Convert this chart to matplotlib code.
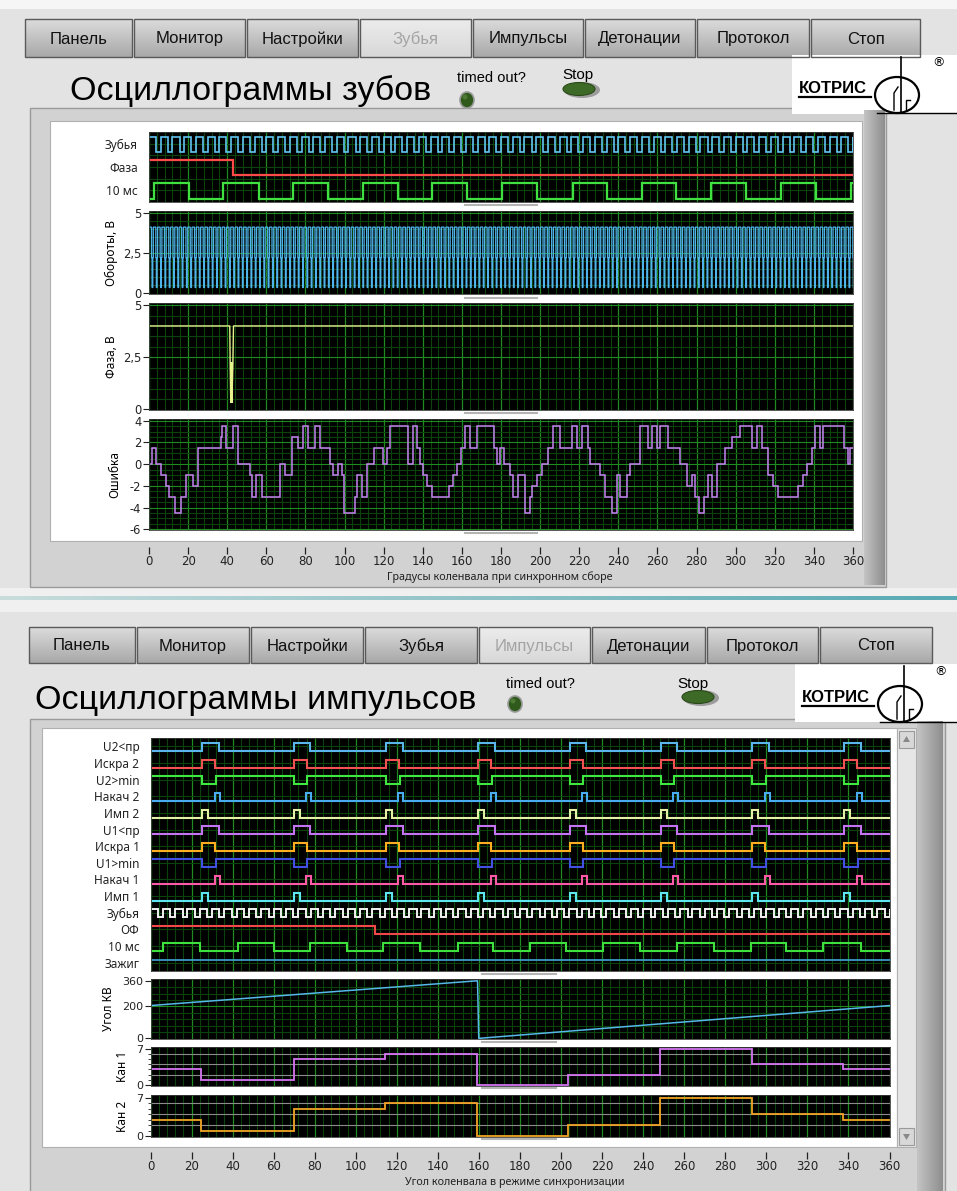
import numpy as np
import matplotlib
matplotlib.use("Agg")
import matplotlib.pyplot as plt
from matplotlib.patches import Rectangle, Ellipse, Polygon

plt.rcParams["axes.unicode_minus"] = False

# ---------------------------------------------------------------- data ----
X_TICKS = list(range(0, 361, 20))

BUTTONS = ["Панель", "Монитор", "Настройки", "Зубья", "Импульсы", "Детонации", "Протокол", "Стоп"]

# top screen: teeth oscillograms
TOP_DIG_LABELS = ["Зубья", "Фаза", "10 мс"]
TEETH_PERIOD = 6.0          # crank degrees per tooth
TEETH_DUTY = 0.6
TOP_PHASE_DROP = 43.0
TOP_10MS_EDGES = [2.5, 20.5, 37.8, 56.2, 73.8, 91.3, 109.2, 127.1, 144.7, 162.6, 180.6,
                  198.5, 216.6, 234.0, 252.3, 269.7, 287.5, 305.4, 323.0, 341.3, 359.2]

OBOROTY_LEVELS = [4.1, 2.2, 0.35, 2.2]
OBOROTY_DURATIONS = [1.3, 0.25, 0.4, 0.25]

FAZA_X = [0, 41.3, 41.5, 41.8, 42.4, 42.9, 43.2, 360]
FAZA_Y = [4.0, 4.0, 2.2, 0.4, 0.4, 2.2, 4.0, 4.0]

ERR_EDGES = [0, 1.4, 3.4, 6.1, 8.5, 10.2, 13.3, 16.2, 18.7, 22.7, 25.2, 36.8, 37.5, 39.2,
             43.1, 45.7, 51.6, 52.8, 54.7, 57.6, 67.0, 69.5, 73.0, 76.4, 78.6, 81.5, 84.9,
             87.4, 92.6, 94.3, 96.8, 98.5, 99.9, 105.3, 106.4, 108.7, 111.3, 115.0, 119.8,
             121.5, 123.2, 132.6, 135.2, 136.9, 138.6, 140.3, 142.0, 144.5, 153.4, 155.6,
             157.3, 159.5, 161.6, 164.1, 167.6, 176.6, 177.9, 179.5, 181.5, 184.6, 186.3,
             188.8, 192.2, 194.8, 195.6, 198.2, 200.8, 204.2, 206.7, 210.1, 216.1, 218.7,
             221.2, 224.3, 225.5, 230.6, 233.2, 236.6, 239.1, 240.8, 244.2, 245.9, 251.0,
             255.3, 257.0, 259.6, 261.3, 265.5, 271.5, 274.9, 277.5, 279.2, 281.2, 283.9,
             286.0, 287.7, 290.2, 294.5, 297.9, 302.2, 308.1, 310.7, 313.3, 316.7, 319.2,
             321.8, 332.0, 334.6, 336.3, 338.8, 340.5, 343.1, 344.8, 355.5, 357.2, 358.4, 360]
ERR_LEVELS = [0, 1.5, 0, -1, -2, -3, -4.5, -3, -1, -2, 1.5, 2.5, 3.5, 1.5,
              3.5, 0, -1, -3, -1, -3, 0, -1, 2.5, 1.5, 3.5, 1.5, 3.5,
              1.5, 0, -1, 0, -1, -4.5, -3, -1, -3, 0, 1.5, 0,
              1.5, 3.5, 0, 3.5, 1.5, 0, -1, -2, -3, -2, -1,
              0, 1.5, 3.5, 1.5, 3.5, 1.5, 0, 1.5, 0, -1, -3,
              -1, -4.5, -3, -2, -1, 0, 1.5, 3.5, 1.5, 3.5, 1.5,
              3.5, 1.5, 0, -1, -3, -4.5, -1, -3, -1, 0, 3.5,
              1.5, 3.5, 1.5, 3.5, 1.5, 0, -2, -1, -3, -4.5, -3,
              -1, -3, 0, 1.5, 2.5, 3.5, 1.5, 3.5, 1.5, -1, -2,
              -3, -2, -1, 0, 1.5, 3.5, 1.5, 3.5, 1.5, 0, 1.5]

# bottom screen: pulse oscillograms
BOT_DIG_LABELS = ["U2<пр", "Искра 2", "U2>min", "Накач 2", "Имп 2", "U1<пр", "Искра 1",
                  "U1>min", "Накач 1", "Имп 1", "Зубья", "ОФ", "10 мс", "Зажиг"]
PULSE_STARTS = [25.3, 69.8, 114.8, 159.7, 204.2, 248.7, 293.2, 338.0]
PULSE_OFFSET = [0, 0, 0, 6.0, 0, 0, 0, 0, 6.0, 0]
PULSE_WIDTH = [8.0, 6.3, 6.5, 2.4, 2.9, 8.0, 6.3, 6.5, 2.4, 2.9]
PULSE_INVERTED = [False, False, True, False, False, False, False, True, False, False]
BOT_OF_DROP = 109.6
BOT_10MS_EDGES = [6.2, 24.0, 42.5, 60.4, 77.6, 95.5, 113.3, 131.5, 149.7, 166.9, 184.8,
                  202.6, 220.5, 238.7, 256.6, 274.4, 292.3, 309.8, 327.7, 346.2]

UGOL_X = [0, 159.3, 159.6, 159.9, 360]
UGOL_Y = [205, 360, 180, 0, 205]

KAN_EDGES = [0, 24.4, 69.8, 114.3, 159.2, 203.3, 248.4, 293.0, 337.4, 360]
KAN1_LEVELS = [3, 1, 5, 6, 0, 2, 7, 4, 3]
KAN2_LEVELS = [3, 1, 5, 6, 0, 2, 7, 4, 3]

# ------------------------------------------------------------- styling ----
W, H = 957, 1191
PANEL = "#e3e3e3"
FRAME = "#d2d2d2"
MAJ_GRID = "#1f8a1f"
MIN_GRID = "#0c430c"
HEAD = "Liberation Sans"   # stands in for the narrow LabVIEW dialog font
UI = "Noto Sans"

fig = plt.figure(figsize=(W / 100, H / 100), dpi=100)
fig.patch.set_facecolor(PANEL)

bg = fig.add_axes([0, 0, 1, 1])
bg.set_zorder(-10)
bg.axis("off")


def frac(x0, y0, x1, y1):
    return [x0 / W, 1 - y1 / H, (x1 - x0) / W, (y1 - y0) / H]


def rect(x0, y0, x1, y1, **kw):
    bg.add_patch(Rectangle((x0, y0), x1 - x0, y1 - y0, **kw))


def vgrad(x0, y0, x1, y1, c_top, c_bot, horizontal=False):
    t = np.linspace(0, 1, 64)
    c0, c1 = np.array(matplotlib.colors.to_rgb(c_top)), np.array(matplotlib.colors.to_rgb(c_bot))
    img = c0 + (c1 - c0) * t[:, None]
    img = img[None, :, :] if horizontal else img[:, None, :]
    bg.imshow(img, extent=(x0, x1, y1, y0), aspect="auto", interpolation="bilinear", zorder=2)


def button_row(edges, y0, y1, disabled_idx):
    for i, label in enumerate(BUTTONS):
        x0, x1 = edges[i] + 1, edges[i + 1] - 1
        dis = i == disabled_idx
        if dis:
            vgrad(x0, y0, x1, y1, "#ececec", "#d8d8d8")
        else:
            vgrad(x0, y0, x1, y1, "#dcdcdc", "#a8a8a8")
        rect(x0, y0, x1, y1, fill=False, ec="#5a5a5a", lw=1.0, zorder=3)
        bg.text((x0 + x1) / 2, (y0 + y1) / 2 + 1, label, ha="center", va="center",
                family=HEAD, fontsize=12, color="#a4a4a4" if dis else "#111111", zorder=4)


def led(x, y):
    bg.add_patch(Ellipse((x, y), 14, 16, fc="#2f5a1c", ec="#9a9a9a", lw=1.2, zorder=4))
    bg.add_patch(Ellipse((x - 2, y - 3), 5, 5, fc="#4d7a34", ec="none", zorder=5))


def stop_led(x, y):
    bg.add_patch(Ellipse((x + 3, y + 1), 36, 16, fc="#9c9c9c", ec="none", zorder=4))
    bg.add_patch(Ellipse((x, y), 32, 13, fc="#3d6a26", ec="#2b4a1a", lw=0.8, zorder=5))


def logo(x0, y0, y1):
    rect(x0, y0, W, y1, fc="white", ec="none", zorder=2)
    bg.text(x0 + 7, y0 + 38, "КОТРИС", family="Liberation Sans", fontweight="bold",
            fontsize=12, ha="left", va="baseline", zorder=4)
    bg.plot([x0 + 7, x0 + 79], [y0 + 42, y0 + 42], color="black", lw=1.6, zorder=4)
    cx = x0 + 105
    bg.add_patch(Ellipse((cx, y0 + 40), 44, 36, fill=False, ec="black", lw=1.6, zorder=4))
    bg.plot([cx + 4, cx + 4], [y0 + 2, y0 + 58], color="black", lw=1.2, zorder=4)
    bg.plot([cx - 3, cx - 3, cx + 1], [y0 + 55, y0 + 38, y0 + 32], color="black", lw=1.0, zorder=4)
    bg.plot([cx + 9, cx + 9, cx + 13], [y0 + 55, y0 + 45, y0 + 45], color="black", lw=1.0, zorder=4)
    bg.plot([cx - 20, W], [y0 + 58, y0 + 58], color="black", lw=1.0, zorder=4)
    bg.text(cx + 41, y0 + 8, "®", fontsize=9, ha="center", va="center", zorder=4)


def grid_axes(ax, xmin_step=4, xmaj_step=20):
    ax.set_facecolor("black")
    ax.set_xlim(0, 360)
    for x in np.arange(0, 361, xmin_step):
        major = abs(x / xmaj_step - round(x / xmaj_step)) < 1e-6
        ax.axvline(x, color=MAJ_GRID if major else MIN_GRID, lw=0.9 if major else 0.8, zorder=0)
    for s in ax.spines.values():
        s.set_color("#3a3a3a")
        s.set_linewidth(0.6)
    ax.set_xticks([])
    ax.tick_params(axis="y", labelsize=8.3, length=4, width=0.8, pad=1.5, colors="#222222")


def hgrid(ax, values, majors, color_maj=MAJ_GRID, color_min=MIN_GRID):
    for v in values:
        ax.axhline(v, color=color_maj if v in majors else color_min, lw=0.8, zorder=0)


def toggle(edges, lo, hi, start_lo=True):
    e = [0] + list(edges) + [360]
    v = [(lo if (i % 2 == 0) == start_lo else hi) for i in range(len(e) - 1)]
    return np.array(e), np.array(v)


def teeth(lo, hi, phase=0.0):
    n = int(360 // TEETH_PERIOD) + 1
    e, v = [0.0], []
    for k in range(n):
        s = k * TEETH_PERIOD + phase
        e += [s + TEETH_PERIOD * TEETH_DUTY, s + TEETH_PERIOD]
        v += [hi, lo]
    return np.clip(e, 0, 360), np.array(v)


def scale_axis(x0, x1, y, label_y, xlabel, label_x):
    ax = fig.add_axes(frac(x0, y, x1, y + 1))
    ax.set_xlim(0, 360)
    ax.set_facecolor("none")
    for s in ax.spines.values():
        s.set_visible(False)
    ax.set_yticks([])
    ax.set_xticks(X_TICKS)
    ax.tick_params(axis="x", direction="out", length=5, width=0.9, pad=1, labelsize=8.5, colors="#222222")
    bg.text(label_x, label_y, xlabel, family=UI, fontsize=7.8, ha="center", va="center", color="#222222")


# ------------------------------------------------------------ backdrop ----
rect(0, 0, W, 9, fc="#f6f6f6", ec="none")
# divider between the two screenshots
rect(0, 588, W, 612, fc="#f0f0f0", ec="none")
vgrad(0, 596, W, 600, "#c8dcdc", "#58aab4", horizontal=True)

# top screen header
button_row([24, 133, 246, 359, 472, 584, 696, 810, 921], 19, 57, 3)
bg.text(70, 100, "Осциллограммы зубов", family=HEAD, fontsize=24.5, ha="left", va="baseline")
bg.text(457, 82, "timed out?", family=HEAD, fontsize=10.5, ha="left", va="baseline")
led(467, 100)
bg.text(562, 79, "Stop", family=HEAD, fontsize=11, ha="left", va="baseline")
stop_led(579, 89)
logo(792, 55, 114)

# top frame
rect(30, 108, 886, 587, fc=FRAME, ec="#9a9a9a", lw=1, zorder=1)
vgrad(864, 110, 885, 585, "#c4c4c4", "#8e8e8e", horizontal=True)
rect(50, 121, 862, 541, fc="white", ec="#b0b0b0", lw=0.8, zorder=3)

# bottom screen header
button_row([28, 136, 250, 364, 478, 591, 706, 819, 933], 627, 663, 4)
bg.text(35, 709, "Осциллограммы импульсов", family=HEAD, fontsize=24.5, ha="left", va="baseline")
bg.text(506, 688, "timed out?", family=HEAD, fontsize=10.5, ha="left", va="baseline")
led(515, 704)
bg.text(677, 688, "Stop", family=HEAD, fontsize=11, ha="left", va="baseline")
stop_led(698, 697)
logo(795, 664, 722)

# bottom frame
rect(30, 719, 945, H + 2, fc=FRAME, ec="#9a9a9a", lw=1, zorder=1)
vgrad(917, 721, 943, H, "#c4c4c4", "#8e8e8e", horizontal=True)
rect(42, 728, 897, 1147, fc="white", ec="#b0b0b0", lw=0.8, zorder=3)
rect(897, 728, 916, 1147, fc="#e6e6e6", ec="#b0b0b0", lw=0.8, zorder=3)
for yb, up in [(731, True), (1128, False)]:
    rect(899, yb, 914, yb + 17, fc="#d8d8d8", ec="#9a9a9a", lw=0.8, zorder=4)
    tri = [(903, yb + 11), (910, yb + 11), (906.5, yb + 5)] if up else [(903, yb + 6), (910, yb + 6), (906.5, yb + 12)]
    bg.add_patch(Polygon(tri, closed=True, fc="#8a8a8a", ec="none", zorder=5))

# little plot-legend bars under each plot
for y in [205, 298, 413, 533]:
    bg.plot([465, 537], [y, y], color="#b4b4b4", lw=1.5, zorder=4)
for y in [974, 1042, 1088, 1139]:
    bg.plot([482, 556], [y, y], color="#b4b4b4", lw=1.5, zorder=4)

bg.set_xlim(0, W)
bg.set_ylim(H, 0)

# ------------------------------------------------------------ top plots ---
TX0, TX1 = 149, 853

ax = fig.add_axes(frac(TX0, 132, TX1, 202))
grid_axes(ax)
ax.set_ylim(0, 3)
hgrid(ax, np.arange(0.5, 3, 0.5), [])
rows = [2, 1, 0]
lo, hi = 0.15, 0.8
e, v = teeth(rows[0] + lo, rows[0] + hi)
ax.stairs(v, e, baseline=None, color="#62c6f2", lw=1.2)
e, v = toggle([TOP_PHASE_DROP], rows[1] + hi, rows[1] + lo)
ax.stairs(v, e, baseline=None, color="#ff4a4a", lw=1.6)
e, v = toggle(TOP_10MS_EDGES, rows[2] + lo, rows[2] + hi)
ax.stairs(v, e, baseline=None, color="#3fe03f", lw=1.6)
ax.set_yticks([r + 0.5 for r in rows])
ax.set_yticklabels(TOP_DIG_LABELS, family=UI, fontsize=8.5)
ax.tick_params(axis="y", length=0, pad=8)

ax = fig.add_axes(frac(TX0, 211, TX1, 294))
grid_axes(ax)
ax.set_ylim(-0.05, 5.1)
hgrid(ax, np.arange(0.5, 5.01, 0.5), [2.5, 5.0])
n = int(np.ceil(360 / sum(OBOROTY_DURATIONS)))
e = np.concatenate([[0], np.cumsum(np.tile(OBOROTY_DURATIONS, n))])
v = np.tile(OBOROTY_LEVELS, n)
ax.stairs(v, e, baseline=None, color="#4fb4ea", lw=0.9)
ax.set_yticks([0, 2.5, 5])
ax.set_yticklabels(["0", "2,5", "5"])
ax.set_ylabel("Обороты, В", family=UI, fontsize=8.5)
ax.yaxis.set_label_coords(-0.044, 0.5)

ax = fig.add_axes(frac(TX0, 303, TX1, 410))
grid_axes(ax)
ax.set_ylim(-0.03, 5.1)
hgrid(ax, np.arange(0.5, 5.01, 0.5), [2.5, 5.0])
ax.plot(FAZA_X, FAZA_Y, color="#e6f28c", lw=1.0)
ax.plot([41.75, 41.75], [0.4, 2.2], color="#e6f28c", lw=2.2)
ax.set_yticks([0, 2.5, 5])
ax.set_yticklabels(["0", "2,5", "5"])
ax.set_ylabel("Фаза, В", family=UI, fontsize=8.5)
ax.yaxis.set_label_coords(-0.044, 0.5)

ax = fig.add_axes(frac(TX0, 419, TX1, 530))
grid_axes(ax)
ax.set_ylim(-6.06, 4.16)
hgrid(ax, np.arange(-6, 4.01, 0.5), [-6, -4, -2, 0, 2, 4])
ax.stairs(ERR_LEVELS, ERR_EDGES, baseline=None, color="#c584f2", lw=1.1)
ax.set_yticks([4, 2, 0, -2, -4, -6])
ax.set_ylabel("Ошибка", family=UI, fontsize=8.5)
ax.yaxis.set_label_coords(-0.04, 0.5)

scale_axis(TX0, TX1, 546, 577, "Градусы коленвала при синхронном сборе", 500)

# --------------------------------------------------------- bottom plots ---
BX0, BX1 = 150.5, 889.5
NB = len(BOT_DIG_LABELS)

ax = fig.add_axes(frac(BX0, 738, BX1, 971))
grid_axes(ax)
ax.set_ylim(0, NB)
hgrid(ax, np.arange(0.5, NB, 1.0), [])
lo, hi = 0.22, 0.7
pulse_colors = ["#5ab6ea", "#f25252", "#3ee83e", "#4aacf0", "#e4f0a4",
                "#c474f2", "#ffae22", "#4250e4", "#ff5aa8", "#5ee6f0"]
for i in range(10):
    base = NB - 1 - i
    starts = [s + PULSE_OFFSET[i] for s in PULSE_STARTS]
    edges = []
    for s in starts:
        edges += [s, s + PULSE_WIDTH[i]]
    if PULSE_INVERTED[i]:
        e, v = toggle(edges, base + hi, base + lo)
    else:
        e, v = toggle(edges, base + lo, base + hi)
    ax.stairs(v, e, baseline=None, color=pulse_colors[i], lw=1.5)
base = NB - 11
e, v = teeth(base + lo + 0.05, base + hi)
ax.stairs(v, e, baseline=None, color="#f2f2f2", lw=1.4)
base = NB - 12
e, v = toggle([BOT_OF_DROP], base + hi, base + lo)
ax.stairs(v, e, baseline=None, color="#f04848", lw=1.5)
base = NB - 13
e, v = toggle(BOT_10MS_EDGES, base + lo, base + hi)
ax.stairs(v, e, baseline=None, color="#3ee03e", lw=1.5)
base = NB - 14
ax.plot([0, 360], [base + 0.65, base + 0.65], color="#3fa6d6", lw=1.2)
ax.set_yticks([NB - 1 - i + 0.5 for i in range(NB)])
ax.set_yticklabels(BOT_DIG_LABELS, family=UI, fontsize=8.5)
ax.tick_params(axis="y", length=0, pad=8)

ax = fig.add_axes(frac(BX0, 979, BX1, 1039))
grid_axes(ax)
ax.set_ylim(-4, 371)
hgrid(ax, [40, 80, 120, 160, 200, 240, 280, 320], [200])
ax.plot(UGOL_X, UGOL_Y, color="#56b8e8", lw=1.1)
ax.set_yticks([0, 200, 360])
ax.tick_params(axis="y", labelsize=8)
ax.set_ylabel("Угол КВ", family=UI, fontsize=8.5)
ax.yaxis.set_label_coords(-0.048, 0.5)

for (y0, y1, ylim, levels, color, name) in [
        (1047, 1086, (-0.25, 7.4), KAN1_LEVELS, "#d474f2", "Кан 1"),
        (1095, 1137, (-0.18, 7.5), KAN2_LEVELS, "#f2a424", "Кан 2")]:
    ax = fig.add_axes(frac(BX0, y0, BX1, y1))
    grid_axes(ax)
    ax.set_ylim(*ylim)
    hgrid(ax, [2, 4, 6], [2, 4, 6], color_maj="#8c8c8c")
    ax.stairs(levels, KAN_EDGES, baseline=None, color=color, lw=1.3)
    ax.set_yticks([0, 7])
    ax.set_yticks([1, 2, 3, 4, 5, 6], minor=True)
    ax.tick_params(axis="y", labelsize=8)
    ax.tick_params(axis="y", which="minor", length=2, width=0.6, colors="#222222")
    ax.set_ylabel(name, family=UI, fontsize=8.5)
    ax.yaxis.set_label_coords(-0.029, 0.5)

scale_axis(BX0, BX1, 1151, 1183, "Угол коленвала в режиме синхронизации", 515)

fig.savefig("out.png", dpi=100, facecolor=fig.get_facecolor())
